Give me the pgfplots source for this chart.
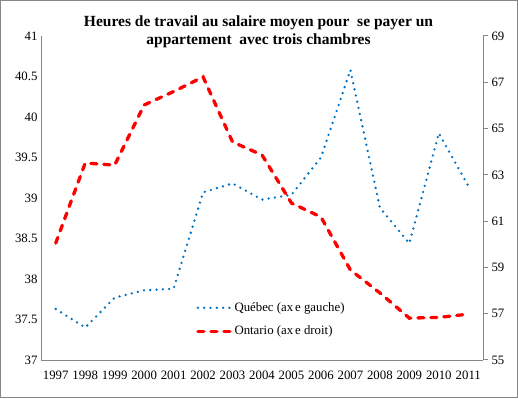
\documentclass[border=0pt]{standalone}
\usepackage{pgfplots}
\pgfplotsset{compat=1.18}
\usepackage{fontspec}
\setmainfont{Liberation Serif}
\definecolor{qblue}{RGB}{0,112,192}
\definecolor{axgray}{RGB}{134,134,134}
\tikzset{
  qstyle/.style={qblue, line width=2.6pt, line cap=round, dash pattern=on 0pt off 6.3pt},
  ostyle/.style={red, line width=3.3pt, line cap=round, dash pattern=on 6pt off 7pt},
}
\begin{document}
\begin{tikzpicture}
\useasboundingbox (0,0) rectangle (518pt,398pt);
\draw[axgray, line width=1pt] (0.5pt,0.5pt) rectangle (517.5pt,397.5pt);
\node[font=\fontsize{15.5}{18}\selectfont\bfseries, align=center] at (258.5pt, 366pt)
  {Heures de travail\ au\ salaire moyen pour\ \ se payer un\\ appartement\ \ avec trois\ chambres};
\begin{axis}[
  at={(41pt,38pt)}, anchor=south west, scale only axis, width=442pt, height=324pt,
  xmin=-0.5, xmax=14.5, ymin=37, ymax=41,
  axis x line*=bottom, axis y line*=left,
  axis line style={axgray, line width=1pt, -},
  xtick={0,1,2,3,4,5,6,7,8,9,10,11,12,13,14},
  xticklabels={1997,1998,1999,2000,2001,2002,2003,2004,2005,2006,2007,2008,2009,2010,2011},
  ytick={37,37.5,38,38.5,39,39.5,40,40.5,41},
  yticklabels={37,37.5,38,38.5,39,39.5,40,40.5,41},
  major tick length=0pt,
  tick label style={font=\fontsize{12.8}{15}\selectfont},
  xticklabel style={yshift=-7pt},
  /pgf/number format/assume math mode=true,
  legend style={draw=none, fill=none, at={(0.344,0.19)}, anchor=north west,
    font=\fontsize{12.8}{15}\selectfont, row sep=9pt},
  legend cell align=left,
  legend image code/.code={\draw[#1] (0pt,0pt) -- (33pt,0pt);},
]
\addplot[qstyle] coordinates {
 (0,37.63) (1,37.40) (2,37.77) (3,37.86) (4,37.88) (5,39.07) (6,39.18) (7,38.98)
 (8,39.04) (9,39.50) (10,40.58) (11,38.88) (12,38.44) (13,39.80) (14,39.15)};
\addlegendentry{Québec (ax\kern2pt e gauche)}
\addlegendimage{ostyle}
\addlegendentry{Ontario (ax\kern2pt e droit)}
\end{axis}
\begin{axis}[
  at={(41pt,38pt)}, anchor=south west, scale only axis, width=442pt, height=324pt,
  xmin=-0.5, xmax=14.5, ymin=55, ymax=69,
  axis x line=none, axis y line*=right,
  axis line style={axgray, line width=1pt, -},
  ytick={55,57,59,61,63,65,67,69},
  tick align=outside, major tick length=5pt,
  ytick style={axgray, line width=1pt},
  tick label style={font=\fontsize{12.8}{15}\selectfont},
  /pgf/number format/assume math mode=true,
]
\addplot[ostyle] coordinates {
 (0,60.05) (1,63.51) (2,63.42) (3,66.02) (4,66.60) (5,67.23) (6,64.42) (7,63.86)
 (8,61.78) (9,61.18) (10,58.89) (11,57.90) (12,56.81) (13,56.84) (14,56.98)};
\end{axis}
\end{tikzpicture}
\end{document}
